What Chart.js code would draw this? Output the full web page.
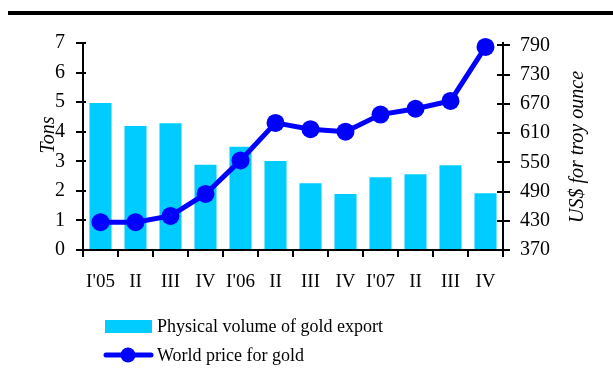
<!DOCTYPE html>
<html>
<head>
<meta charset="utf-8">
<title>Gold export and world gold price</title>
<script src="https://cdn.jsdelivr.net/npm/chart.js@4.4.1/dist/chart.umd.min.js"></script>
<style>
  html, body { margin: 0; padding: 0; background: #fff; }
  #wrap { position: relative; width: 613px; height: 385px; }
</style>
</head>
<body>
<div id="wrap"><canvas id="goldChart" width="613" height="385"></canvas></div>
<script>
// quarterly data, 2005-2007
const quarters = ["I'05", "II", "III", "IV", "I'06", "II", "III", "IV", "I'07", "II", "III", "IV"];
const exportTons = [4.97, 4.19, 4.29, 2.88, 3.49, 3.01, 2.26, 1.89, 2.46, 2.56, 2.87, 1.92];
const goldPrice = [427, 427, 440, 485, 554, 631, 618, 613, 648, 660, 676, 787];

// axis tick values
const tonsTicks = [0, 1, 2, 3, 4, 5, 6, 7];
const priceTicks = [370, 430, 490, 550, 610, 670, 730, 790];

const serif = "'Liberation Serif', 'Times New Roman', serif";
Chart.defaults.font.family = serif;
Chart.defaults.color = "#000";

const barColor = "#00CCFF";
const lineColor = "#0000FF";

function drawRotated(ctx, text, x, y) {
  ctx.save();
  ctx.translate(x, y);
  ctx.rotate(-Math.PI / 2);
  ctx.fillText(text, 0, 0);
  ctx.restore();
}

// top rule, inner tick marks, axis titles and the legend
const extras = {
  id: "extras",
  afterDraw(chart) {
    const ctx = chart.ctx;
    const area = chart.chartArea;
    const yL = chart.scales.y;
    const yR = chart.scales.y2;
    ctx.save();

    ctx.fillStyle = "#000";
    ctx.fillRect(8, 11, chart.width - 8, 4);

    ctx.strokeStyle = "#000";
    ctx.lineWidth = 2;
    ctx.beginPath();
    yL.ticks.forEach((t) => {
      const py = Math.round(yL.getPixelForValue(t.value));
      ctx.moveTo(area.left, py);
      ctx.lineTo(area.left + 3, py);
    });
    yR.ticks.forEach((t) => {
      const py = Math.round(yR.getPixelForValue(t.value));
      ctx.moveTo(area.right - 6, py);
      ctx.lineTo(area.right, py);
    });
    ctx.stroke();

    ctx.fillStyle = "#000";
    ctx.font = "italic 20px " + serif;
    ctx.textAlign = "center";
    ctx.textBaseline = "middle";
    drawRotated(ctx, "Tons", 49, 135);
    drawRotated(ctx, "US$ for troy ounce", 578, 147);

    // legend
    const ds = chart.data.datasets;
    ctx.font = "18px " + serif;
    ctx.textAlign = "left";
    ctx.fillStyle = ds[0].backgroundColor;
    ctx.fillRect(105, 320, 47, 13);
    ctx.fillStyle = "#000";
    ctx.fillText(ds[0].label, 157, 327);

    ctx.strokeStyle = ds[1].borderColor;
    ctx.lineWidth = 5;
    ctx.lineCap = "round";
    ctx.beginPath();
    ctx.moveTo(106, 355);
    ctx.lineTo(151, 355);
    ctx.stroke();
    ctx.fillStyle = ds[1].borderColor;
    ctx.beginPath();
    ctx.arc(128, 355, 7.5, 0, Math.PI * 2);
    ctx.fill();
    ctx.fillStyle = "#000";
    ctx.fillText(ds[1].label, 157, 356);

    ctx.restore();
  },
};

const axisGrid = {
  drawOnChartArea: false,
  drawTicks: true,
  tickLength: 7,
  color: "#000",
  lineWidth: 2,
};
const axisBorder = { display: true, color: "#000", width: 2 };

const goldCtx = document.getElementById("goldChart").getContext("2d");

new Chart(goldCtx, {
  type: "bar",
  data: {
    labels: quarters,
    datasets: [
      {
        type: "bar",
        label: "Physical volume of gold export",
        data: exportTons,
        backgroundColor: barColor,
        borderWidth: 0,
        barPercentage: 0.63,
        categoryPercentage: 1,
        yAxisID: "y",
        order: 2,
      },
      {
        type: "line",
        label: "World price for gold",
        data: goldPrice,
        borderColor: lineColor,
        backgroundColor: lineColor,
        borderWidth: 5,
        pointRadius: 9,
        pointBackgroundColor: lineColor,
        pointBorderWidth: 0,
        tension: 0,
        yAxisID: "y2",
        order: 1,
        clip: false,
      },
    ],
  },
  options: {
    responsive: false,
    animation: false,
    layout: { padding: { top: 43, left: 0, right: 0, bottom: 0 } },
    plugins: {
      legend: { display: false },
      tooltip: { enabled: false },
    },
    scales: {
      x: {
        offset: true,
        grid: Object.assign({ offset: true }, axisGrid),
        border: axisBorder,
        ticks: { font: { size: 19 }, padding: 14, maxRotation: 0, autoSkip: false },
        afterFit(scale) {
          scale.height = 135;
        },
      },
      y: {
        position: "left",
        min: tonsTicks[0],
        max: tonsTicks[tonsTicks.length - 1],
        grid: axisGrid,
        border: axisBorder,
        ticks: { stepSize: tonsTicks[1] - tonsTicks[0], font: { size: 20 }, padding: 11 },
        afterFit(scale) {
          scale.width = 83;
        },
      },
      y2: {
        position: "right",
        min: priceTicks[0],
        // a little headroom above the last tick
        max: priceTicks[priceTicks.length - 1] + 5,
        grid: axisGrid,
        border: axisBorder,
        ticks: { stepSize: priceTicks[1] - priceTicks[0], font: { size: 20 }, padding: 10 },
        afterBuildTicks(scale) {
          scale.ticks = priceTicks.map((v) => ({ value: v }));
        },
        afterFit(scale) {
          scale.width = 110;
        },
      },
    },
  },
  plugins: [extras],
});
</script>
</body>
</html>
